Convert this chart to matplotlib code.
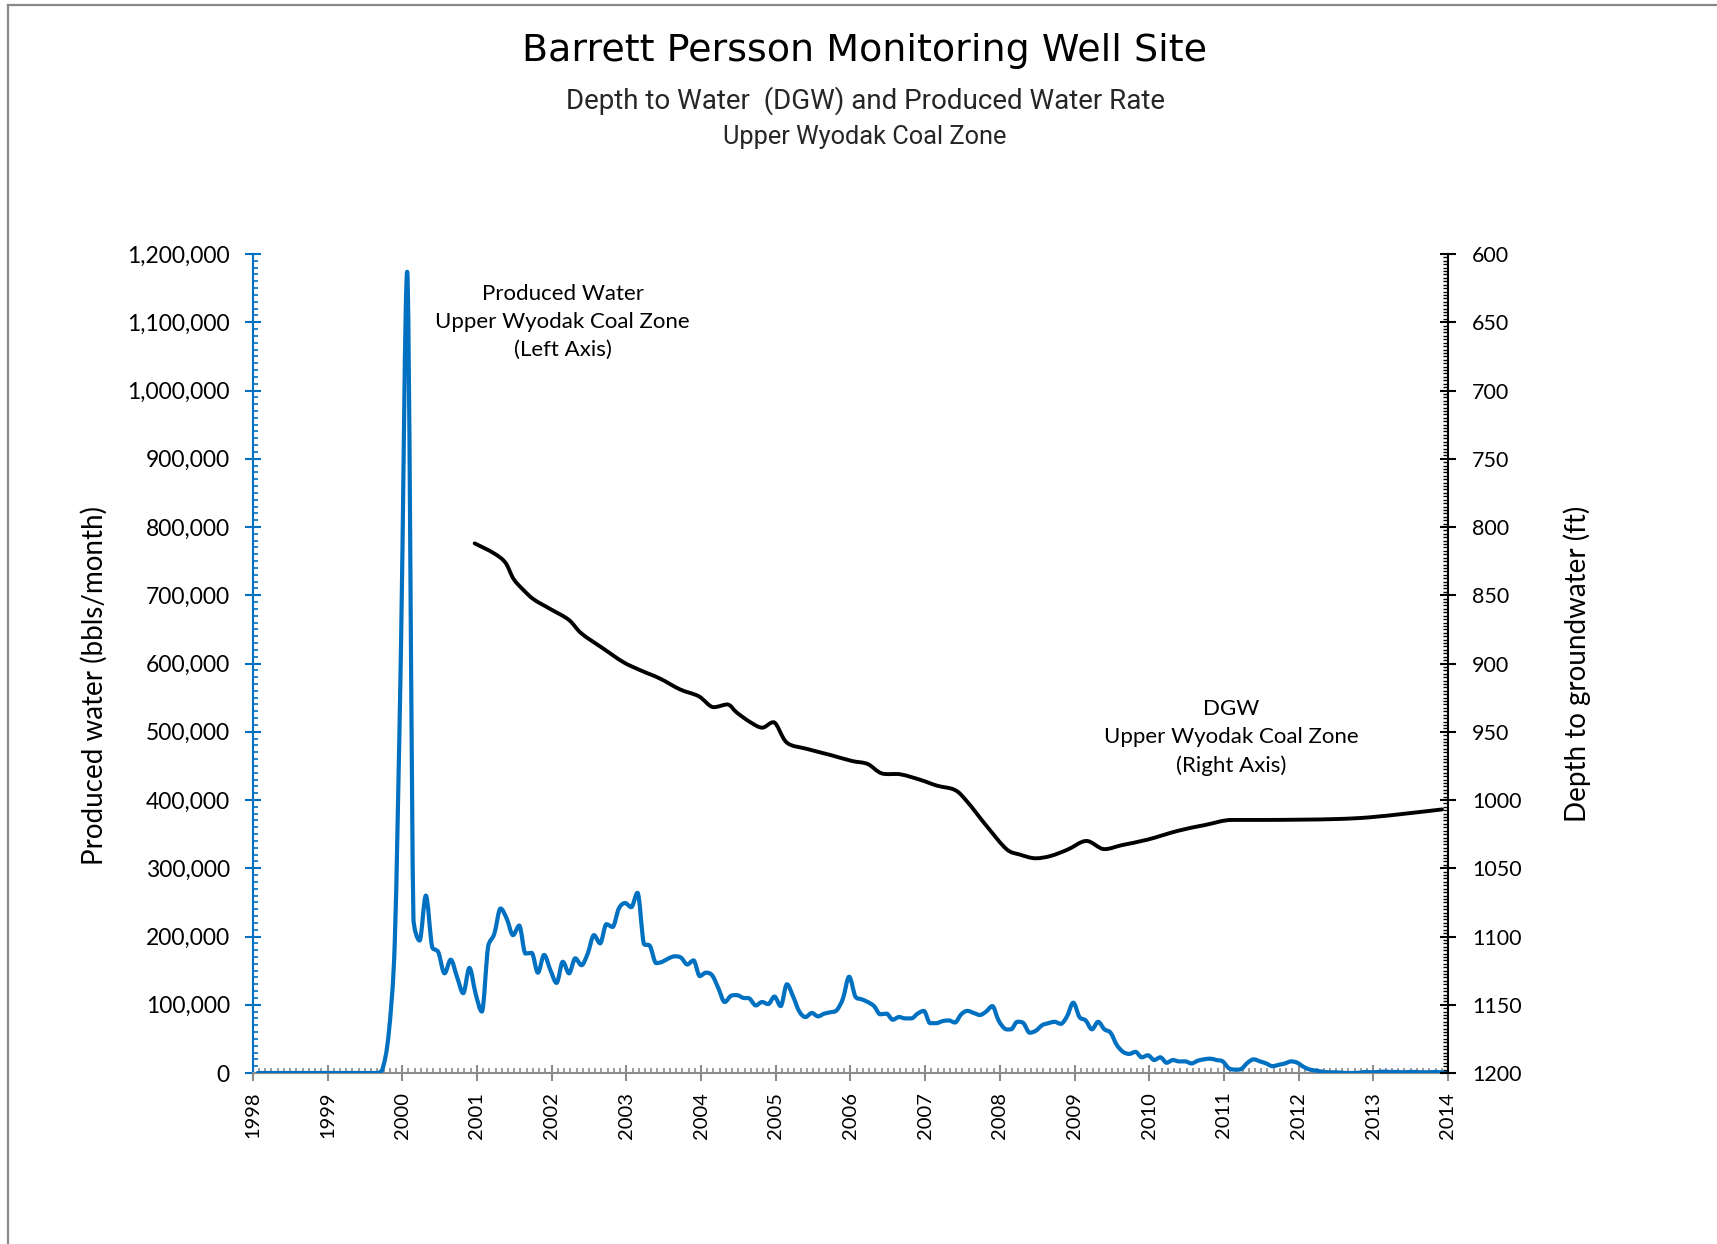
import numpy as np
import matplotlib
matplotlib.use("Agg")
import matplotlib.pyplot as plt
from matplotlib.ticker import MultipleLocator, FuncFormatter
from matplotlib.lines import Line2D
from matplotlib.path import Path
from matplotlib.patches import PathPatch

# ---------------- data ----------------
# Produced water, monthly Jan 1998 .. Dec 2013 (bbls/month)
prod_start_year = 1998
prod_values = (
    [0] * 20 +
    [5000, 55000, 190000, 620000] +
    [1174000, 228000, 194000, 260000, 185000, 177000, 146000, 166000, 141000, 117000, 154000, 116000] +
    [90000, 185000, 204000, 241000, 226000, 202000, 216000, 175000, 176000, 147000, 173000, 151000] +
    [132000, 163000, 146000, 168000, 158000, 175000, 202000, 190000, 218000, 214000, 241000, 249000] +
    [243000, 264000, 190000, 186000, 161000, 163000, 168000, 171000, 169000, 159000, 165000, 142000] +
    [147000, 143000, 124000, 104000, 113000, 114000, 110000, 109000, 99000, 104000, 101000, 112000] +
    [98000, 130000, 112000, 90000, 82000, 88000, 83000, 87000, 89000, 92000, 109000, 141000] +
    [112000, 108000, 104000, 98000, 86000, 87000, 78000, 82000, 80000, 80000, 87000, 91000] +
    [73000, 73000, 76000, 77000, 74000, 86000, 91000, 88000, 85000, 90000, 98000, 77000] +
    [65000, 64000, 75000, 73000, 59000, 62000, 70000, 73000, 75000, 72000, 83000, 103000] +
    [82000, 77000, 64000, 75000, 64000, 59000, 41000, 31000, 28000, 31000, 23000, 26000] +
    [19000, 23000, 15000, 19000, 17000, 17000, 14000, 18000, 20000, 21000, 19000, 17000] +
    [7000, 5000, 6000, 15000, 20000, 17000, 14000, 10000, 12000, 14000, 17000, 15000] +
    [9000, 5000, 3500, 2000, 1000, 1000, 500, 0, 0, 500, 1500, 1000] +
    [1500, 2000, 1500, 1500, 1000, 1500, 1500, 1000, 1000, 1500, 1000, 0]
)
# report dates: ~24th of each month, as decimal years
prod_dates = prod_start_year + (np.arange(len(prod_values)) + 0.8) / 12.0

# Depth to groundwater (ft), decimal-year dates
dgw_dates = [2000.97, 2001.22, 2001.38, 2001.49, 2001.62, 2001.76, 2001.98, 2002.23, 2002.40,
             2002.69, 2002.96, 2003.19, 2003.45, 2003.72, 2003.97, 2004.17, 2004.35, 2004.48,
             2004.66, 2004.82, 2004.97, 2005.15, 2005.42, 2005.73, 2006.02, 2006.23, 2006.42,
             2006.67, 2006.94, 2007.16, 2007.40, 2007.56, 2007.83, 2008.09, 2008.27, 2008.48,
             2008.68, 2008.91, 2009.16, 2009.40, 2009.64, 2009.98, 2010.39, 2010.75, 2011.11,
             2011.52, 2012.03, 2012.54, 2012.95, 2013.46, 2013.92]
dgw_depth = [812, 819, 826, 838, 846, 853, 860, 868, 878,
             889, 899, 905, 911, 919, 924, 932, 930, 936,
             943, 947, 943, 958, 962.6, 967, 971.4, 973.6, 980.5,
             981.2, 985.3, 989.5, 992.7, 1001, 1019.5, 1036, 1040, 1042.7,
             1041, 1036.3, 1030, 1036, 1033, 1029, 1022.5, 1018.3, 1014.6,
             1014.6, 1014.4, 1013.9, 1012.7, 1009.8, 1006.9]

year_ticks = list(range(1998, 2015))
left_ticks = list(range(0, 1200001, 100000))
right_ticks = list(range(600, 1201, 50))

title = "Barrett Persson Monitoring Well Site"
subtitle1 = "Depth to Water  (DGW) and Produced Water Rate"
subtitle2 = "Upper Wyodak Coal Zone"
left_label = "Produced water (bbls/month)"
right_label = "Depth to groundwater (ft)"
ann_prod = "Produced Water\nUpper Wyodak Coal Zone\n(Left Axis)"
ann_dgw = "DGW\nUpper Wyodak Coal Zone\n(Right Axis)"


def smooth_line(ax, x, y, px_w, px_h, **kw):
    """Draw a smoothed (Excel-like Bezier) line through the data points.
    Tangents are computed in screen-proportional units, flattened at local
    extrema and limited by the adjacent segment lengths (no overshoot)."""
    x = np.asarray(x, float)
    y = np.asarray(y, float)
    x0, x1 = ax.get_xlim()
    y0, y1 = ax.get_ylim()
    sx = px_w / abs(x1 - x0)
    sy = px_h / abs(y1 - y0)
    P = np.column_stack([x * sx, y * sy])
    n = len(P)
    T = np.zeros_like(P)
    for i in range(n):
        a = P[max(i - 1, 0)]
        b = P[min(i + 1, n - 1)]
        t = (b - a) / 6.0
        if 0 < i < n - 1:
            if (P[i, 1] - a[1]) * (b[1] - P[i, 1]) <= 0:
                t[1] = 0.0
        T[i] = t
    verts = [P[0]]
    codes = [Path.MOVETO]
    for i in range(n - 1):
        L = np.hypot(*(P[i + 1] - P[i]))
        t1, t2 = T[i], T[i + 1]
        n1, n2 = np.hypot(*t1), np.hypot(*t2)
        k1 = min(1.0, 0.5 * L / n1) if n1 > 0 else 0.0
        k2 = min(1.0, 0.5 * L / n2) if n2 > 0 else 0.0
        verts += [P[i] + t1 * k1, P[i + 1] - t2 * k2, P[i + 1]]
        codes += [Path.CURVE4] * 3
    V = np.array(verts)
    V[:, 0] /= sx
    V[:, 1] /= sy
    patch = PathPatch(Path(V, codes), facecolor="none", capstyle="round",
                      joinstyle="round", transform=ax.transData, **kw)
    ax.add_patch(patch)
    return patch


# ---------------- styling ----------------
BLUE = "#0070C0"
GRAY = "#8C8C8C"
W, H = 1717, 1244
plt.rcParams['font.family'] = ['Lato', 'DejaVu Sans']

fig = plt.figure(figsize=(W / 100, H / 100), dpi=100)
fig.patch.set_facecolor("white")

ax_l, ax_r = 252.8 / W, 1448.0 / W
ax_b, ax_t = 1 - 1073.0 / H, 1 - 254.0 / H
ax = fig.add_axes([ax_l, ax_b, ax_r - ax_l, ax_t - ax_b])
ax2 = ax.twinx()

ax.set_xlim(1998, 2014)
ax.set_ylim(0, 1200000)
ax2.set_ylim(1200, 600)

pw, ph = (ax_r - ax_l) * W, (ax_t - ax_b) * H
smooth_line(ax, prod_dates, prod_values, pw, ph, edgecolor=BLUE, lw=3.0, zorder=3)
smooth_line(ax2, dgw_dates, dgw_depth, pw, ph, edgecolor="black", lw=2.8, zorder=3)

# spines
for a in (ax, ax2):
    a.spines["top"].set_visible(False)
ax.spines["right"].set_visible(False)
ax2.spines["left"].set_visible(False)
ax2.spines["bottom"].set_visible(False)
ax.spines["left"].set_color(BLUE)
ax.spines["left"].set_linewidth(1.5)
ax.spines["bottom"].set_color(GRAY)
ax.spines["bottom"].set_linewidth(1.5)
ax2.spines["right"].set_color("black")
ax2.spines["right"].set_linewidth(1.5)

# x axis
ax.set_xticks(year_ticks)
ax.set_xticklabels([str(y) for y in year_ticks], rotation=90, fontsize=14.5)
ax.xaxis.set_minor_locator(MultipleLocator(1 / 12))
ax.tick_params(axis="x", which="major", direction="inout", length=11, width=1.5,
               color=GRAY, pad=8)
ax.tick_params(axis="x", which="minor", direction="in", length=3.5, width=1.2, color=GRAY)

# left axis
ax.set_yticks(left_ticks)
ax.yaxis.set_major_formatter(FuncFormatter(lambda v, p: f"{int(v):,}"))
ax.yaxis.set_minor_locator(MultipleLocator(10000))
ax.tick_params(axis="y", which="major", direction="inout", length=11, width=1.5,
               color=BLUE, labelsize=16.5, pad=11)
ax.tick_params(axis="y", which="minor", direction="in", length=3.5, width=1.2, color=BLUE)
ax.set_ylabel(left_label, fontsize=20, labelpad=14)
ax.yaxis.label.set_y(0.473)

# right axis
ax2.set_yticks(right_ticks)
ax2.yaxis.set_minor_locator(MultipleLocator(2.5))
ax2.tick_params(axis="y", which="major", direction="inout", length=11, width=1.5,
                color="black", labelsize=15.5, pad=12)
ax2.tick_params(axis="y", which="minor", direction="in", length=3.5, width=1.0, color="black")
ax2.set_ylabel(right_label, fontsize=20, labelpad=30)

# annotations (placed in data coordinates)
ax.text(2002.15, 1100000, ann_prod, ha="center", va="center", fontsize=16, linespacing=1.5)
ax2.text(2011.1, 954, ann_dgw, ha="center", va="center", fontsize=16, linespacing=1.5)

# titles
fig.text(864 / W, 1 - 51 / H, title, ha="center", va="center", fontsize=27.4,
         family=["DejaVu Sans"])
fig.text(865 / W, 1 - 101 / H, subtitle1, ha="center", va="center", fontsize=20,
         family=["Roboto", "DejaVu Sans"], fontweight="normal", color="#262626")
fig.text(865 / W, 1 - 137 / H, subtitle2, ha="center", va="center", fontsize=18.3,
         family=["Roboto", "DejaVu Sans"], fontweight="normal", color="#262626")

# chart-area border (top and left edges visible)
fig.add_artist(Line2D([8 / W, 1], [1 - 5 / H, 1 - 5 / H], color="#888888", lw=1.6,
                      transform=fig.transFigure))
fig.add_artist(Line2D([8 / W, 8 / W], [0, 1 - 5 / H], color="#888888", lw=1.6,
                      transform=fig.transFigure))

fig.savefig("out.png", dpi=100, facecolor="white")
